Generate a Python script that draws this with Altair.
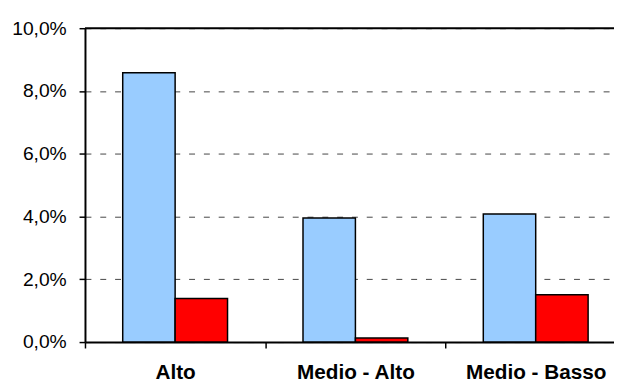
import altair as alt
import pandas as pd

categories = ["Alto", "Medio - Alto", "Medio - Basso"]
series_names = ["Serie 1", "Serie 2"]
serie1 = [0.0858, 0.0395, 0.0408]
serie2 = [0.0139, 0.0013, 0.0151]
colors = ["#99CCFF", "#FF0000"]
y_ticks = [0.0, 0.02, 0.04, 0.06, 0.08, 0.10]

rows = []
for c, a, b in zip(categories, serie1, serie2):
    rows.append({"cat": c, "serie": series_names[0], "value": a})
    rows.append({"cat": c, "serie": series_names[1], "value": b})
df = pd.DataFrame(rows)

bars = alt.Chart(df).mark_bar(stroke="black", strokeWidth=1.5).encode(
    x=alt.X("cat:N", sort=categories,
            scale=alt.Scale(paddingInner=0, paddingOuter=0, range=[0, 548]),
            axis=alt.Axis(title=None, labelAngle=0, tickBand="extent",
                          labelFontWeight="bold", labelFontSize=21,
                          labelFont="Liberation Sans", labelColor="black",
                          labelBaseline="alphabetic", labelPadding=31,
                          tickSize=6, tickColor="black", tickWidth=1.5,
                          domainColor="black", domainWidth=2, grid=False)),
    xOffset=alt.XOffset("serie:N", sort=series_names,
                        scale=alt.Scale(paddingInner=0, paddingOuter=0.72)),
    y=alt.Y("value:Q", scale=alt.Scale(domain=[0, 0.10], nice=False),
            axis=alt.Axis(title=None, values=y_ticks,
                          labelExpr="replace(format(datum.value, '.1%'), '.', ',')",
                          labelFontSize=19.5, labelFont="Liberation Sans",
                          labelColor="black", labelPadding=13,
                          tickSize=6, tickColor="black", tickWidth=1.5,
                          domainColor="black", domainWidth=2,
                          grid=True, gridColor="#444444", gridDash=[6, 9],
                          gridWidth=1)),
    color=alt.Color("serie:N", scale=alt.Scale(domain=series_names, range=colors),
                    legend=None),
)

top = alt.Chart(pd.DataFrame({"v": [0.10]})).mark_rule(
    color="black", strokeWidth=2
).encode(y="v:Q")

chart = alt.layer(bars, top).properties(
    width=536, height=318,
    padding={"left": 78, "top": 18, "right": 0, "bottom": 39},
    autosize=alt.AutoSizeParams(type="none"),
).configure_view(stroke=None)

chart.save("out.html", embed_options={"renderer": "svg", "actions": False})
